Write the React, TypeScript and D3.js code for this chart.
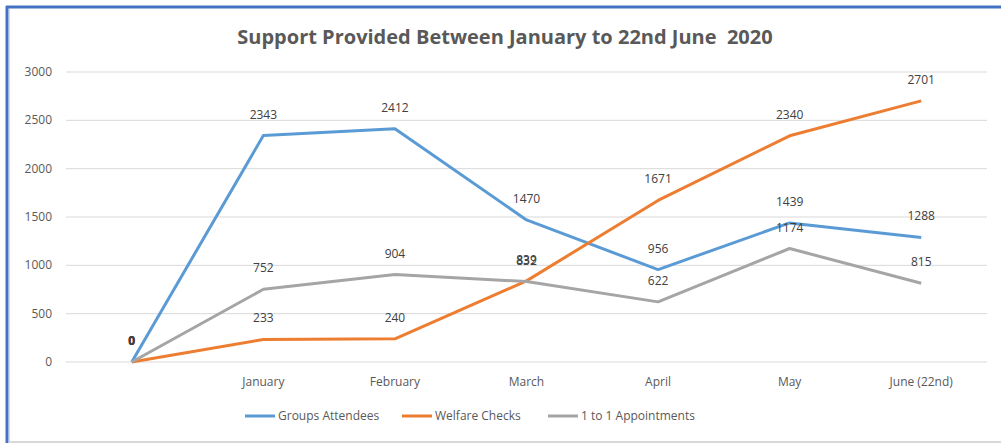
import React from "react";
import { scaleBand, scaleLinear, line } from "d3";

const categories = ["", "January", "February", "March", "April", "May", "June (22nd)"];
const groupsAttendees = [0, 2343, 2412, 1470, 956, 1439, 1288];
const welfareChecks = [0, 233, 240, 839, 1671, 2340, 2701];
const oneToOne = [0, 752, 904, 832, 622, 1174, 815];
const yTicks = [0, 500, 1000, 1500, 2000, 2500, 3000];

const series = [
  { name: "Groups Attendees", values: groupsAttendees, color: "#5B9BD5" },
  { name: "Welfare Checks", values: welfareChecks, color: "#ED7D31" },
  { name: "1 to 1 Appointments", values: oneToOne, color: "#A5A5A5" }
];

const W = 1001;
const H = 443;
const font = "'Open Sans', sans-serif";

function App() {
  const x = scaleBand().domain(categories.map((c, i) => String(i))).range([66, 987]);
  const y = scaleLinear().domain([0, 3000]).range([362, 72]);
  const cx = (i) => x(String(i)) + x.bandwidth() / 2;

  const path = line()
    .x((d, i) => cx(i))
    .y((d) => y(d));

  const legendX = [245, 402, 548];

  return (
    <svg width={W} height={H} style={{ position: "absolute", left: 0, top: 0 }}>
      <rect x={0} y={0} width={W} height={H} fill="#fff" />
      {/* chart frame */}
      <line x1={9} x2={W} y1={442} y2={442} stroke="#d9d9d9" strokeWidth={2} />
      <line x1={9.5} x2={9.5} y1={9} y2={H} stroke="#d9d9d9" strokeWidth={1} />
      <line x1={7} x2={7} y1={6} y2={H} stroke="#4472C4" strokeWidth={3} />
      <line x1={6} x2={W} y1={7} y2={7} stroke="#4472C4" strokeWidth={3} />

      <text
        x={505}
        y={44}
        textAnchor="middle"
        fontFamily={font}
        fontWeight="bold"
        fontSize={20}
        fill="#595959"
        style={{ whiteSpace: "pre" }}
      >
        {"Support Provided Between January to 22nd June  2020"}
      </text>

      {yTicks.map((t) => (
        <g key={t}>
          <line x1={66} x2={987} y1={y(t)} y2={y(t)} stroke="#d9d9d9" strokeWidth={1} />
          <text x={52} y={y(t) + 4} textAnchor="end" fontFamily={font} fontSize={12} fill="#595959">
            {t}
          </text>
        </g>
      ))}

      {categories.map((c, i) => (
        <text key={i} x={cx(i)} y={386} textAnchor="middle" fontFamily={font} fontSize={12} fill="#595959">
          {c}
        </text>
      ))}

      {series.map((s) => (
        <path key={s.name} d={path(s.values)} fill="none" stroke={s.color} strokeWidth={3} strokeLinejoin="round" />
      ))}

      {series.map((s) =>
        s.values.map((v, i) => (
          <text
            key={s.name + i}
            x={cx(i)}
            y={y(v) - 17}
            textAnchor="middle"
            fontFamily={font}
            fontSize={12}
            fontWeight={i === 0 ? "bold" : "normal"}
            fill="#404040"
          >
            {v}
          </text>
        ))
      )}

      {series.map((s, k) => (
        <g key={s.name}>
          <line x1={legendX[k]} x2={legendX[k] + 30} y1={416} y2={416} stroke={s.color} strokeWidth={3} />
          <text x={legendX[k] + 33} y={420} fontFamily={font} fontSize={12} fill="#595959">
            {s.name}
          </text>
        </g>
      ))}
    </svg>
  );
}

export default App;
